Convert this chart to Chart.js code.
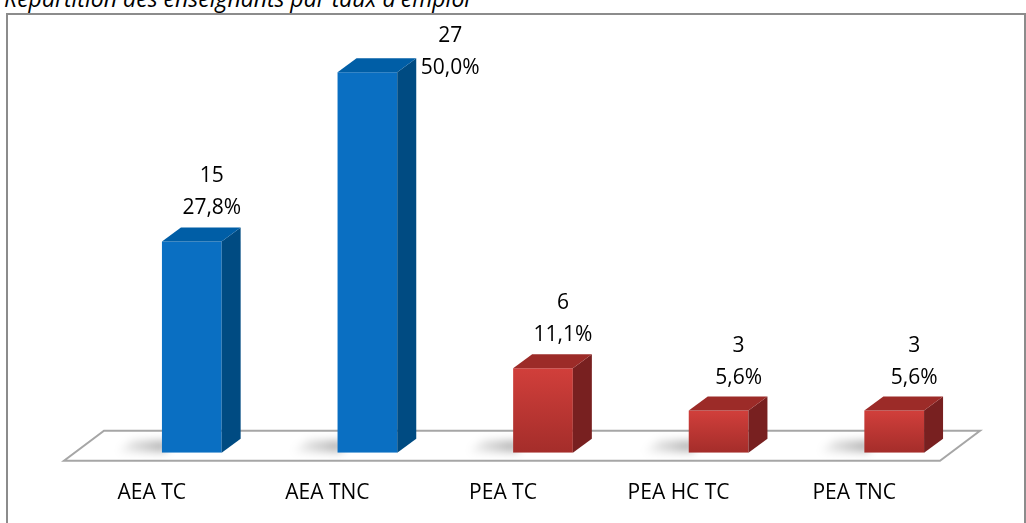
<!DOCTYPE html>
<html>
<head>
<meta charset="utf-8">
<script src="https://cdn.jsdelivr.net/npm/chart.js@4/dist/chart.umd.min.js"></script>
<style>
  body { margin: 0; background: #fff; overflow: hidden; }
  .wrap { position: relative; width: 1026px; height: 523px; }
  .title {
    position: absolute; left: 4px; top: -18px; line-height: 24px;
    font: italic 23px "Open Sans", sans-serif; color: #000; white-space: nowrap;
  }
  .frame {
    position: absolute; left: 6px; top: 13px; width: 1016px; height: 530px;
    border: 2px solid #8c8c8c;
  }
  canvas { position: absolute; left: 0; top: 0; }
</style>
</head>
<body>
<div class="wrap">
  <div class="title">Répartition des enseignants par taux d'emploi</div>
  <div class="frame"></div>
  <canvas id="myChart" width="1026" height="523"></canvas>
</div>
<script>
// data
const categories = ["AEA TC", "AEA TNC", "PEA TC", "PEA HC TC", "PEA TNC"];
const counts = [15, 27, 6, 3, 3];

// AEA bars blue, PEA bars red
const palette = {
  blue: { front: "#0a6fc2", side: "#004b82", top: "#005ea6" },
  red: { front: "#c83936", side: "#782020", top: "#9c2b28" },
};
const barColors = ["blue", "blue", "red", "red", "red"];

const total = counts.reduce((a, b) => a + b, 0);
const percents = counts.map((c) => ((c / total) * 100).toFixed(1).replace(".", ",") + "%");

// 3d look: depth of the bars and of the floor
const depthX = 19, depthY = -14;
const floorBack = -22, floorFront = 8, floorShift = -40;

let ctx = document.getElementById("myChart");

const threeD = {
  id: "threeD",
  beforeDatasetsDraw: function (chart) {
    const c = chart.ctx;
    const area = chart.chartArea;
    const base = chart.scales.y.getPixelForValue(0);
    // floor
    c.save();
    c.beginPath();
    c.moveTo(area.left, base + floorBack);
    c.lineTo(area.right - 2, base + floorBack);
    c.lineTo(area.right - 2 + floorShift, base + floorFront);
    c.lineTo(area.left + floorShift, base + floorFront);
    c.closePath();
    c.fillStyle = "#ffffff";
    c.fill();
    c.lineWidth = 2;
    c.strokeStyle = "#a6a6a6";
    c.stroke();
    // soft shadows left of every bar
    const meta = chart.getDatasetMeta(0);
    c.filter = "blur(4px)";
    meta.data.forEach((bar) => {
      const left = bar.x - bar.width / 2;
      const g = c.createLinearGradient(left - 50, 0, left, 0);
      g.addColorStop(0, "rgba(0,0,0,0)");
      g.addColorStop(1, "rgba(0,0,0,0.3)");
      c.fillStyle = g;
      c.beginPath();
      c.moveTo(left - 30, base - 12);
      c.lineTo(left + 5, base - 12);
      c.lineTo(left + 5, base - 1);
      c.lineTo(left - 45, base - 1);
      c.closePath();
      c.fill();
    });
    c.filter = "none";
    c.restore();
  },
  afterDatasetsDraw: function (chart) {
    const c = chart.ctx;
    const meta = chart.getDatasetMeta(0);
    const base = chart.scales.y.getPixelForValue(0);
    c.save();
    meta.data.forEach((bar, i) => {
      const col = palette[barColors[i]];
      const left = bar.x - bar.width / 2;
      const right = bar.x + bar.width / 2;
      const top = bar.y;
      // side face
      c.beginPath();
      c.moveTo(right, top);
      c.lineTo(right + depthX, top + depthY);
      c.lineTo(right + depthX, base + depthY);
      c.lineTo(right, base);
      c.closePath();
      c.fillStyle = col.side;
      c.fill();
      // top face
      c.beginPath();
      c.moveTo(left, top);
      c.lineTo(left + depthX, top + depthY);
      c.lineTo(right + depthX, top + depthY);
      c.lineTo(right, top);
      c.closePath();
      c.fillStyle = col.top;
      c.fill();

      // value labels
      c.fillStyle = "#000";
      c.font = '21px "Open Sans", sans-serif';
      c.textAlign = "center";
      c.textBaseline = "middle";
      let lx = bar.x + 20;
      let y2 = top + depthY - 19;
      if (y2 - 32 < 30) {
        lx = right + depthX + 34;
        y2 = top - 4;
      }
      c.fillText(String(counts[i]), lx, y2 - 32);
      c.fillText(percents[i], lx, y2);
    });
    c.restore();
  },
};

var config = {
  type: "bar",
  data: {
    labels: categories,
    datasets: [
      {
        data: counts,
        backgroundColor: function (context) {
          const col = palette[barColors[context.dataIndex]];
          const chart = context.chart;
          if (!chart.chartArea || barColors[context.dataIndex] !== "red") return col.front;
          const base = chart.scales.y.getPixelForValue(0);
          const top = chart.scales.y.getPixelForValue(counts[context.dataIndex]);
          const g = chart.ctx.createLinearGradient(0, top, 0, base);
          g.addColorStop(0, "#d13f3b");
          g.addColorStop(1, "#a42d2a");
          return g;
        },
        borderWidth: 0,
        barPercentage: 0.34,
        categoryPercentage: 1,
      },
    ],
  },
  options: {
    responsive: false,
    animation: false,
    layout: {
      padding: { left: 104, right: 44, top: 30, bottom: -11 },
    },
    scales: {
      y: {
        display: false,
        min: 0,
        max: 30,
      },
      x: {
        grid: { display: false, drawTicks: false },
        border: { display: false },
        ticks: {
          labelOffset: -40,
          padding: 28,
          color: "#000",
          font: { family: "Open Sans", size: 21 },
          maxRotation: 0,
        },
      },
    },
    plugins: {
      legend: { display: false },
      tooltip: { enabled: false },
    },
  },
  plugins: [threeD],
};

const myChart = new Chart(ctx, config);
</script>
</body>
</html>
